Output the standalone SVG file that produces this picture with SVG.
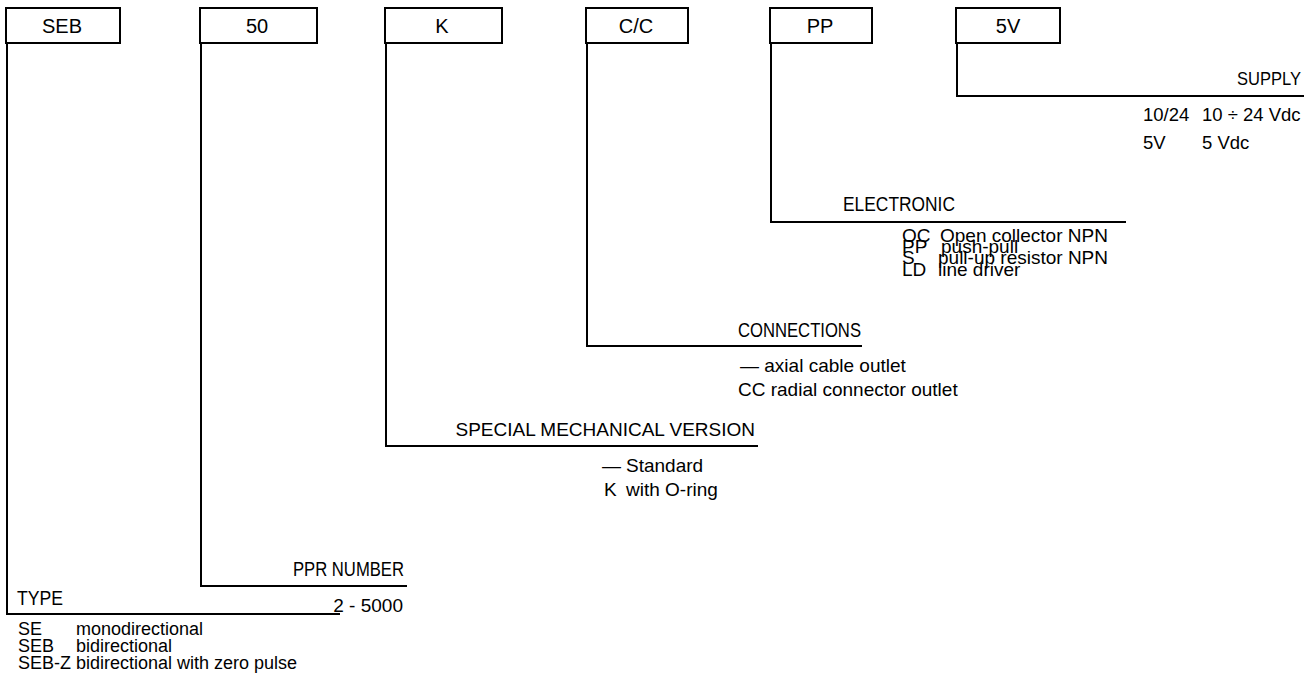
<svg xmlns="http://www.w3.org/2000/svg" width="1314" height="693" viewBox="0 0 1314 693">
<style>
text{font-family:"Liberation Sans",Arial,sans-serif;font-size:19px;fill:#000}
.box{fill:#fff;stroke:#000;stroke-width:2}
.ln{fill:none;stroke:#000;stroke-width:2}
.code{font-size:20px;text-anchor:middle}
.hd{font-size:21px}
.ty{font-size:18px}
.sp{font-size:18.5px}
</style>
<rect width="1314" height="693" fill="#fff"/>
<g id="connectors">
<polyline class="ln" points="7,43 7,614 340,614"/>
<polyline class="ln" points="201,43 201,586 407,586"/>
<polyline class="ln" points="386,43 386,446 758,446"/>
<polyline class="ln" points="587,43 587,346 862,346"/>
<polyline class="ln" points="771,43 771,222 1126,222"/>
<polyline class="ln" points="957,43 957,96 1304,96"/>
</g>
<g id="node-seb"><rect class="box" x="6" y="8" width="114" height="35"/><text class="code" x="62" y="33">SEB</text></g>
<g id="node-50"><rect class="box" x="200" y="8" width="117" height="35"/><text class="code" x="257" y="33">50</text></g>
<g id="node-k"><rect class="box" x="385" y="8" width="117" height="35"/><text class="code" x="442" y="33">K</text></g>
<g id="node-cc"><rect class="box" x="586" y="8" width="102" height="35"/><text class="code" x="636" y="33">C/C</text></g>
<g id="node-pp"><rect class="box" x="770" y="8" width="102" height="35"/><text class="code" x="820" y="33">PP</text></g>
<g id="node-5v"><rect class="box" x="956" y="8" width="104" height="35"/><text class="code" x="1008" y="33">5V</text></g>
<g id="type">
<text class="hd" x="17" y="605" textLength="46" lengthAdjust="spacingAndGlyphs">TYPE</text>
<text class="ty" x="18" y="635">SE</text><text class="ty" x="76" y="635">monodirectional</text>
<text class="ty" x="18" y="652">SEB</text><text class="ty" x="76" y="652">bidirectional</text>
<text class="ty" x="18" y="669">SEB-Z bidirectional with zero pulse</text>
</g>
<g id="ppr">
<text class="hd" x="293" y="576" textLength="111" lengthAdjust="spacingAndGlyphs">PPR NUMBER</text>
<text x="403" y="612" text-anchor="end">2 - 5000</text>
</g>
<g id="mech">
<text x="755" y="436" text-anchor="end">SPECIAL MECHANICAL VERSION</text>
<text x="602" y="472">—</text><text x="626" y="472">Standard</text>
<text x="604" y="496">K</text><text x="626" y="496">with O-ring</text>
</g>
<g id="conn">
<text class="hd" x="738" y="337" textLength="123" lengthAdjust="spacingAndGlyphs">CONNECTIONS</text>
<text x="740" y="372">— axial cable outlet</text>
<text x="738" y="396">CC radial connector outlet</text>
</g>
<g id="elec">
<text class="hd" x="843" y="211" textLength="112" lengthAdjust="spacingAndGlyphs">ELECTRONIC</text>
<text x="902" y="242">OC</text><text x="940" y="242">Open collector NPN</text>
<text x="902" y="253">PP</text><text x="941" y="253">push-pull</text>
<text x="902" y="264">S</text><text x="938" y="264">pull-up resistor NPN</text>
<text x="902" y="276">LD</text><text x="938" y="276">line driver</text>
</g>
<g id="supply">
<text x="1237" y="85" style="font-size:18px" textLength="64" lengthAdjust="spacingAndGlyphs">SUPPLY</text>
<text class="sp" x="1143" y="121">10/24</text><text class="sp" x="1202" y="121">10 ÷ 24 Vdc</text>
<text class="sp" x="1143" y="149">5V</text><text class="sp" x="1202" y="149">5 Vdc</text>
</g>
</svg>
